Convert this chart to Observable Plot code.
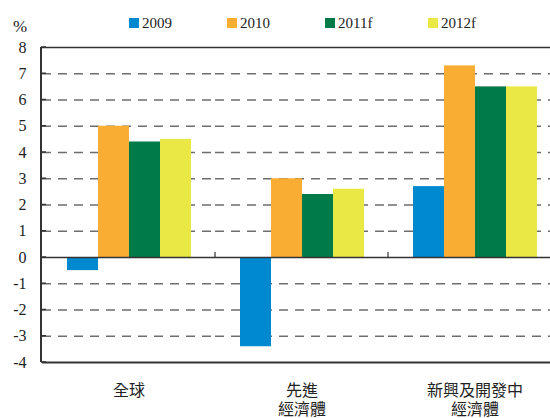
<!DOCTYPE html>
<html><head><meta charset="utf-8">
<script src="https://cdn.jsdelivr.net/npm/d3@7"></script>
<script src="https://cdn.jsdelivr.net/npm/@observablehq/plot@0.6"></script>
<style>
body{margin:0;background:#fff;}
#wrap{position:relative;width:550px;height:418px;overflow:hidden;}
.lg{position:absolute;font:15px "Liberation Serif",serif;color:#222;line-height:15px;white-space:nowrap;}
.sw{position:absolute;width:10px;height:10px;}
</style></head><body><div id="wrap"></div>
<script>
const groups = ["全球", "先進經濟體", "新興及開發中經濟體"];
const groupLabels = ["全球", "先進\n經濟體", "新興及開發中\n經濟體"];
const series = ["2009", "2010", "2011f", "2012f"];
const v2009 = [-0.5, -3.4, 2.7];
const v2010 = [5.0, 3.0, 7.3];
const v2011f = [4.4, 2.4, 6.5];
const v2012f = [4.5, 2.6, 6.5];
const colors = ["#0089cf", "#f9ad32", "#007a48", "#e9e845"];
const yTicks = [-4, -3, -2, -1, 0, 1, 2, 3, 4, 5, 6, 7, 8];
const gridValues = [-3, -2, -1, 1, 2, 3, 4, 5, 6, 7];
const unitLabel = "%";

const valuesBySeries = [v2009, v2010, v2011f, v2012f];
const rows = [];
groups.forEach((g, i) => series.forEach((s, j) => rows.push({group: g, series: s, value: valuesBySeries[j][i]})));

const ML = 41;
const plot = Plot.plot({
  width: 550, height: 418,
  marginTop: 47, marginBottom: 56, marginLeft: ML, marginRight: 0,
  style: {background: "transparent", fontFamily: "Liberation Serif, serif", color: "#222"},
  fx: {domain: groups, range: [ML, 561.5], padding: 0, label: null, axis: null},
  x: {domain: series, paddingInner: 0, paddingOuter: 0.732, axis: null},
  y: {domain: [-4, 8], label: null, axis: null},
  color: {domain: series, range: colors},
  marks: [
    Plot.ruleY(gridValues, {stroke: "#6e6e6e", strokeWidth: 1.5, strokeDasharray: "9,7"}),
    Plot.barY(rows, {fx: "group", x: "series", y: "value", fill: "series"}),
    Plot.ruleY([0], {stroke: "#333", strokeWidth: 1.5}),
    Plot.ruleY([8], {stroke: "#333", strokeWidth: 1.5}),
    Plot.ruleY([-4], {stroke: "#333", strokeWidth: 2}),
    Plot.axisY({ticks: yTicks, tickSize: 0, tickPadding: 16, fontSize: 16, fill: "#222",
      fontFamily: "Liberation Serif", label: null, tickFormat: d => String(d)}),
    Plot.axisFx({anchor: "bottom", tickSize: 0, tickPadding: 20, fontSize: 16, fill: "#222", lineHeight: 1.2,
      fontFamily: "Noto Sans CJK TC", label: null,
      tickFormat: g => groupLabels[groups.indexOf(g)]})
  ]
});

const wrap = document.getElementById("wrap");
wrap.appendChild(plot);

// fonts: serif for numbers, CJK font for category labels
const cjk = /[\u3400-\u9fff]/;
d3.select(plot).selectAll("text").each(function() {
  const txt = this.textContent;
  this.style.fontFamily = cjk.test(txt) ? '"Noto Sans CJK TC", sans-serif' : '"Liberation Serif", serif';
  if (!cjk.test(txt)) this.style.fontSize = "16px";
});

// frame left line, inward tick marks and category separator ticks
const yS = plot.scale("y");
const fxS = plot.scale("fx");
const svg = d3.select(plot);
svg.append("line").attr("x1", ML).attr("x2", ML)
  .attr("y1", yS.apply(8)).attr("y2", yS.apply(-4))
  .attr("stroke", "#333").attr("stroke-width", 2);
yTicks.forEach(v => {
  svg.append("line").attr("x1", ML).attr("x2", ML + 5)
    .attr("y1", yS.apply(v)).attr("y2", yS.apply(v))
    .attr("stroke", "#333").attr("stroke-width", 1.5);
});
groups.slice(1).forEach(g => {
  const x = fxS.apply(g);
  svg.append("line").attr("x1", x).attr("x2", x)
    .attr("y1", yS.apply(0)).attr("y2", yS.apply(0) - 5)
    .attr("stroke", "#333").attr("stroke-width", 1.2);
});

// legend
const pct = document.createElement("div");
pct.className = "lg"; pct.textContent = unitLabel;
pct.style.left = "13px"; pct.style.top = "19px"; pct.style.fontSize = "17px";
wrap.appendChild(pct);
const legendX = [129, 227, 325, 428];
series.forEach((s, j) => {
  const sw = document.createElement("div");
  sw.className = "sw"; sw.style.background = colors[j];
  sw.style.left = legendX[j] + "px"; sw.style.top = "18px";
  wrap.appendChild(sw);
  const t = document.createElement("div");
  t.className = "lg"; t.textContent = s;
  t.style.left = (legendX[j] + 13) + "px"; t.style.top = "16px";
  wrap.appendChild(t);
});
</script>
</body></html>
